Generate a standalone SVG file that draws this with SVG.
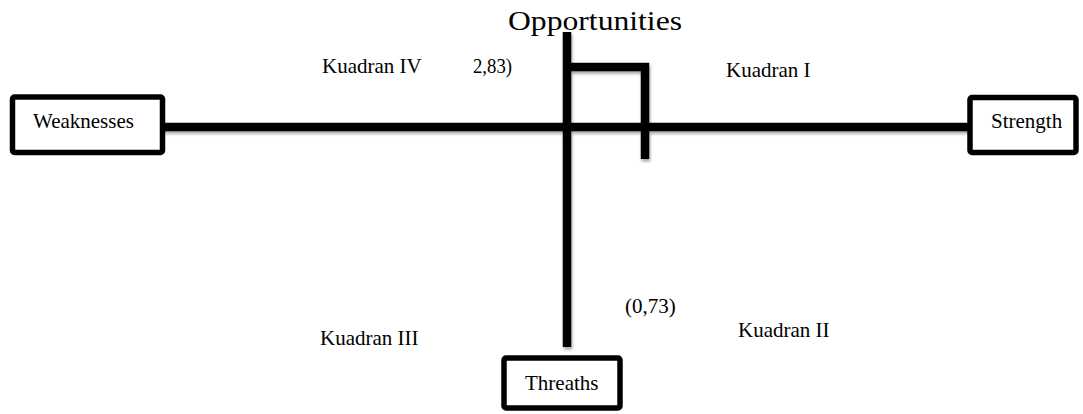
<svg xmlns="http://www.w3.org/2000/svg" width="1083" height="414" viewBox="0 0 1083 414">
  <defs>
    <filter id="sh" x="-5%" y="-20%" width="110%" height="160%">
      <feDropShadow dx="1" dy="2.5" stdDeviation="1.5" flood-color="#000" flood-opacity="0.35"/>
    </filter>
    <style>
      .box { fill: #fff; stroke: #000; stroke-width: 5.5; }
      .ln { fill: none; stroke: #000; stroke-width: 8.5; stroke-linecap: butt; stroke-linejoin: miter; }
      text { fill: #000; }
    </style>
  </defs>
  <rect width="1083" height="414" fill="#fff"/>

  <g id="connectors" filter="url(#sh)">
    <line class="ln" x1="163" y1="127" x2="970" y2="127"/>
    <line class="ln" x1="567" y1="32" x2="567" y2="347"/>
    <polyline class="ln" points="567,67 645,67 645,159"/>
  </g>

  <g font-family="'Times New Roman', 'Liberation Serif', 'DejaVu Serif', serif" font-size="21">
    <g id="opportunities">
      <text x="508" y="30" font-size="27" textLength="174" lengthAdjust="spacingAndGlyphs">Opportunities</text>
    </g>

    <g id="weaknesses">
      <rect class="box" x="12.5" y="97" width="150" height="55.5" rx="2"/>
      <text x="33" y="128">Weaknesses</text>
    </g>

    <g id="strength">
      <rect class="box" x="970" y="97.5" width="106" height="55" rx="2"/>
      <text x="991" y="128">Strength</text>
    </g>

    <g id="threaths">
      <rect class="box" x="504" y="358" width="116" height="50" rx="2"/>
      <text x="525" y="390">Threaths</text>
    </g>

    <g id="labels">
      <text x="322" y="73">Kuadran IV</text>
      <text x="473" y="73" textLength="39" lengthAdjust="spacingAndGlyphs">2,83)</text>
      <text x="726" y="77">Kuadran I</text>
      <text x="320" y="345">Kuadran III</text>
      <text x="738" y="337">Kuadran II</text>
      <text x="625" y="313">(0,73)</text>
    </g>
  </g>
</svg>
